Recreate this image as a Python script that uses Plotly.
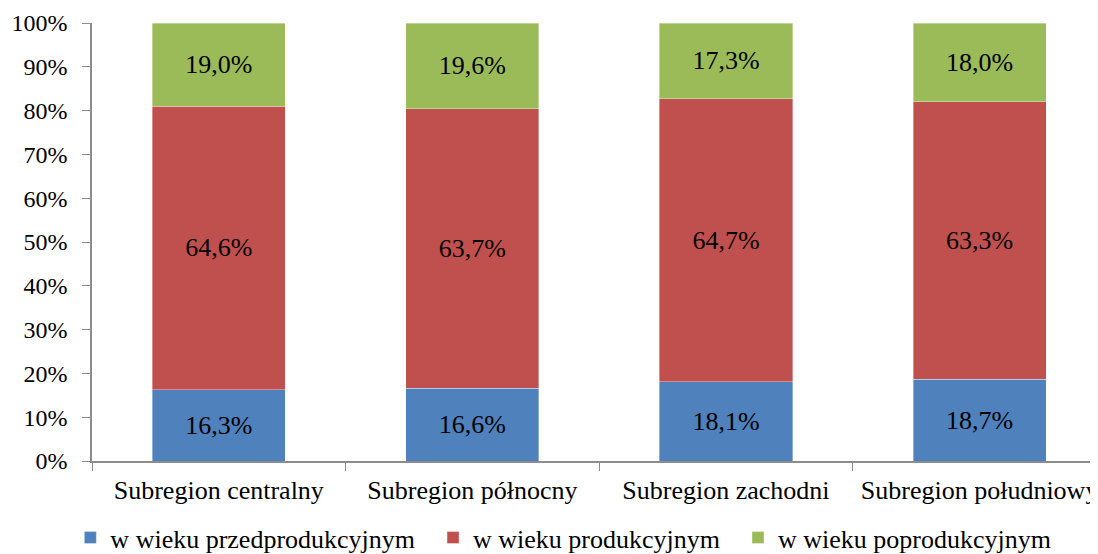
import plotly.graph_objects as go

categories = ["Subregion centralny", "Subregion północny", "Subregion zachodni", "Subregion południowy"]
series_names = ["w wieku przedprodukcyjnym", "w wieku produkcyjnym", "w wieku poprodukcyjnym"]
pre_working = [16.3, 16.6, 18.1, 18.7]
working = [64.6, 63.7, 64.7, 63.3]
post_working = [19.0, 19.6, 17.3, 18.0]
y_ticks = [0, 10, 20, 30, 40, 50, 60, 70, 80, 90, 100]

COLORS = ["#4F81BD", "#C0504D", "#9BBB59"]
FONT = "Liberation Serif"
PAD = "\u00a0\u00a0"  # a little extra room between legend entries

fig = go.Figure()
for name, vals, color in zip(series_names, [pre_working, working, post_working], COLORS):
    fig.add_trace(go.Bar(
        x=categories,
        y=vals,
        name=name + PAD,
        customdata=vals,
        texttemplate="%{customdata:.1f}%",
        textposition="inside",
        insidetextanchor="middle",
        textfont=dict(family=FONT, size=26, color="black"),
        marker=dict(color=color, line=dict(color="rgba(255,255,255,0.6)", width=0.6)),
    ))

# page body has an 8px margin, so the figure is sized/placed relative to that
fig.update_layout(
    barmode="stack",
    barnorm="percent",
    bargap=0.475,
    separators=", ",
    width=1090,
    height=546,
    margin=dict(l=84, r=0, t=15, b=93, autoexpand=False),
    plot_bgcolor="white",
    paper_bgcolor="white",
    font=dict(family=FONT, size=26, color="black"),
    showlegend=True,
    legend=dict(
        orientation="h",
        x=0.475, xanchor="center",
        y=-0.175, yanchor="middle",
        font=dict(family=FONT, size=26),
        traceorder="normal",
        itemwidth=30,
    ),
    xaxis=dict(
        range=[-0.5, 3.467],
        automargin=False,
        showline=True, linecolor="#8c8c8c", linewidth=1.5,
        ticks="outside", tickson="boundaries", ticklen=8, tickcolor="#8c8c8c",
        tickfont=dict(family=FONT, size=26),
        ticklabelstandoff=5,
    ),
    yaxis=dict(
        range=[0, 100],
        automargin=False,
        tickvals=y_ticks,
        ticktext=[f"{v}%" for v in y_ticks],
        showgrid=False, zeroline=False,
        showline=True, linecolor="#8c8c8c", linewidth=1.5,
        ticks="outside", ticklen=8, tickcolor="#8c8c8c",
        tickfont=dict(family=FONT, size=24),
        ticklabelstandoff=10,
    ),
)

fig.write_html("out.html")
